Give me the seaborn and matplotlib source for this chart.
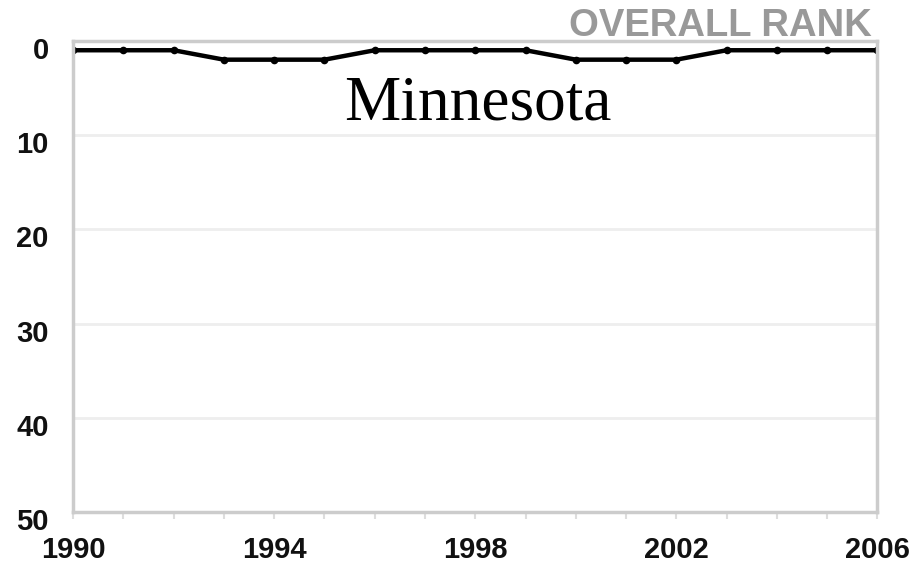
import matplotlib
matplotlib.use("Agg")
import matplotlib.pyplot as plt
import matplotlib.transforms as mtransforms
import seaborn as sns
import pandas as pd

# rank of Minnesota per year (1 = best)
years = list(range(1990, 2007))
ranks = [1, 1, 1, 2, 2, 2, 1, 1, 1, 1, 2, 2, 2, 1, 1, 1, 1]
year_labels = [1990, 1994, 1998, 2002, 2006]
rank_ticks = [0, 10, 20, 30, 40, 50]

sns.set_style("white")
plt.rcParams['font.family'] = ['Liberation Sans', 'DejaVu Sans']

df = pd.DataFrame({"year": years, "rank": ranks})

fig = plt.figure(figsize=(9.14, 5.67), dpi=100)
ax = fig.add_axes([0.080, 0.097, 0.880, 0.831])

sns.lineplot(data=df, x="year", y="rank", ax=ax, color="black", linewidth=3.2,
             marker="o", markersize=5.5, markeredgewidth=0)

ax.set_xlim(1990, 2006)
ax.set_ylim(50, 0)
ax.set_xticks(year_labels)
ax.set_xticks(years, minor=True)
ax.set_yticks(rank_ticks)
ax.set_xlabel("")
ax.set_ylabel("")

for y in rank_ticks[1:-1]:
    ax.axhline(y, color="#eeeeee", linewidth=2, zorder=0)

for s in ax.spines.values():
    s.set_color("#cccccc")
    s.set_linewidth(2.5)

ax.tick_params(axis="x", which="both", bottom=True, length=5, width=1.5,
               color="#dddddd", labelsize=21, pad=12)
ax.tick_params(axis="y", left=False, labelsize=21, pad=14)

# y labels sit a little below their gridlines in the original
shift = mtransforms.ScaledTranslation(0, -7 / 100, fig.dpi_scale_trans)
for lbl in ax.get_yticklabels():
    lbl.set_transform(lbl.get_transform() + shift)
for lbl in ax.get_xticklabels() + ax.get_yticklabels():
    lbl.set_fontweight("bold")
    lbl.set_color("#111111")

fig.text(0.954, 1 - 8 / 567, "OVERALL RANK", ha="right", va="top",
         fontsize=27.5, fontweight="bold", color="#999999")
fig.text(0.523, 0.815, "Minnesota", ha="center", va="center",
         fontsize=45.5, family=["Liberation Serif", "DejaVu Serif"], color="black")

fig.savefig("out.png", dpi=100)
